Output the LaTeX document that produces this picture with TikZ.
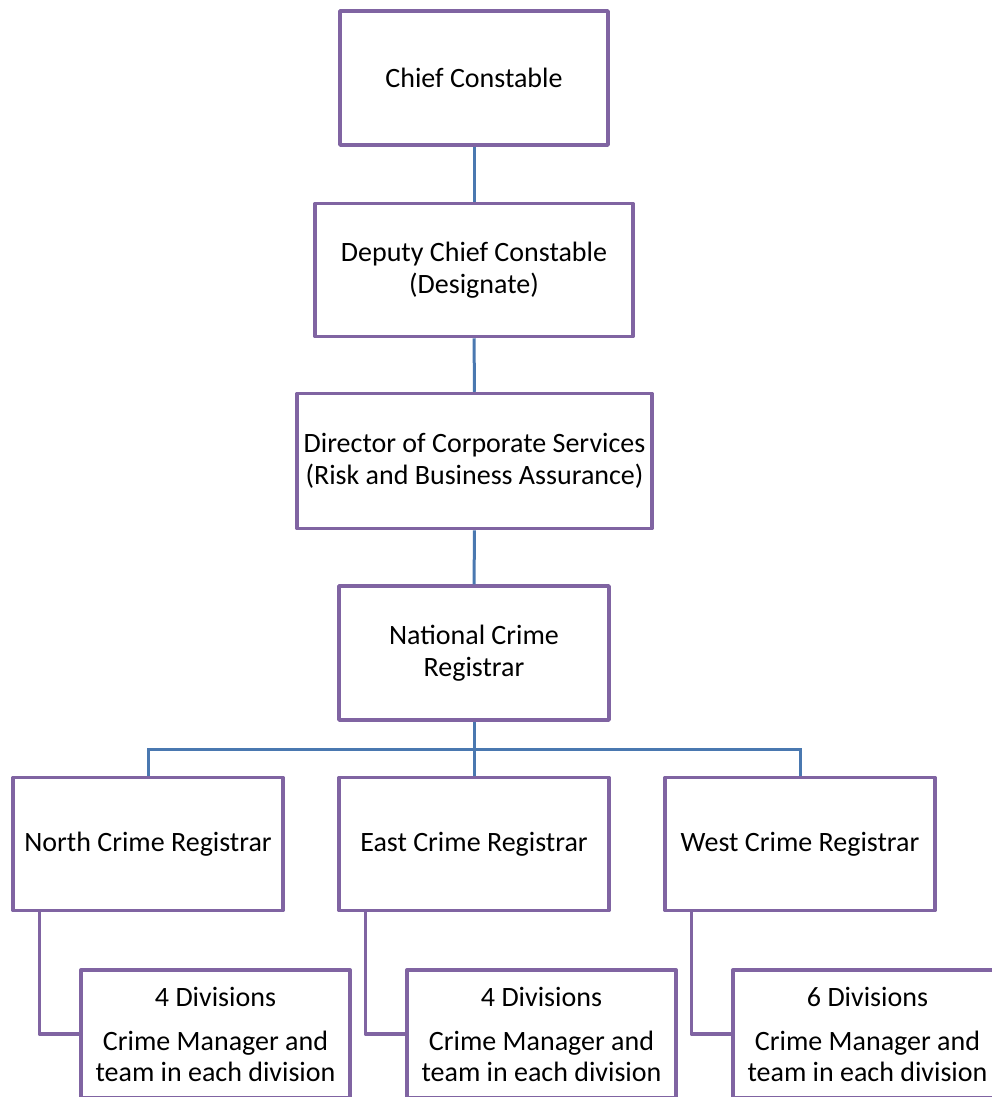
\documentclass[tikz,border=0pt]{standalone}
\usepackage{fontspec}
\setmainfont{Carlito}
\definecolor{boxpurple}{HTML}{8064A2}
\definecolor{linkblue}{HTML}{4A78B0}
\begin{document}
\begin{tikzpicture}[x=1pt,y=-1pt,
  post/.style={draw=boxpurple,line width=3.5pt,line join=round,fill=white,align=center,
    font=\fontsize{28}{32}\selectfont,inner sep=0pt},
  subpost/.style={post,anchor=north,minimum width=269pt,inner ysep=17pt},
  bluelink/.style={draw=linkblue,line width=3pt},
  purplelink/.style={draw=boxpurple,line width=3.5pt,line join=round}]
\useasboundingbox (0,0) rectangle (992,1097);
\clip (0,0) rectangle (992,1097);
\node[post,minimum width=268pt,minimum height=134pt] (chief) at (474,78) {Chief Constable};
\node[post,minimum width=318pt,minimum height=133pt] (deputy) at (474,270) {Deputy Chief Constable\\(Designate)};
\node[post,minimum width=355pt,minimum height=135pt] (director) at (474.5,461) {Director of Corporate Services\\(Risk and Business Assurance)};
\node[post,minimum width=270pt,minimum height=134pt] (national) at (474,653) {National Crime\\Registrar};
\node[post,minimum width=270pt,minimum height=133pt] (north) at (148,844) {North Crime Registrar};
\node[post,minimum width=270pt,minimum height=133pt] (east) at (474,844) {East Crime Registrar};
\node[post,minimum width=270pt,minimum height=133pt] (west) at (800,844) {West Crime Registrar};
\coordinate (bus) at (474,749);
\draw[bluelink] (chief) -- (deputy);
\draw[bluelink] (deputy) -- (director);
\draw[bluelink] (director) -- (national);
\draw[bluelink] (national) -- (east);
\draw[bluelink] (bus) -| (north);
\draw[bluelink] (bus) -| (west);
\node[subpost] (northsub) at (215.5,968) {4 Divisions\\[12pt]Crime Manager and\\[-1pt]team in each division};
\node[subpost] (eastsub) at (541.5,968) {4 Divisions\\[12pt]Crime Manager and\\[-1pt]team in each division};
\node[subpost] (westsub) at (867.5,968) {6 Divisions\\[12pt]Crime Manager and\\[-1pt]team in each division};
\draw[purplelink] ([xshift=28pt]north.south west) |- (northsub.west);
\draw[purplelink] ([xshift=28pt]east.south west) |- (eastsub.west);
\draw[purplelink] ([xshift=28pt]west.south west) |- (westsub.west);
\end{tikzpicture}
\end{document}
